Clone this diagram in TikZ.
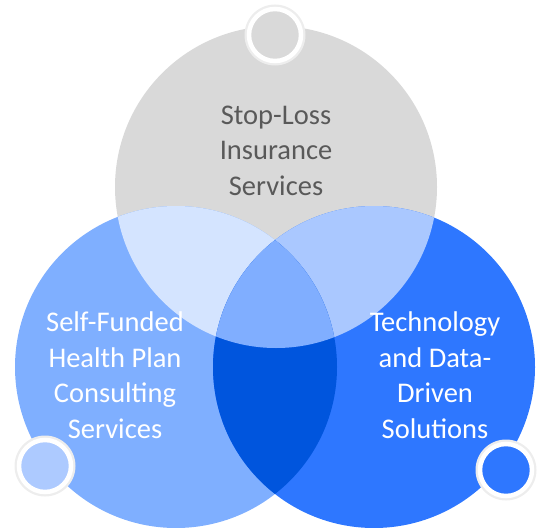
\documentclass[tikz,border=0pt]{standalone}
\usepackage{fontspec}
\setmainfont{Carlito}
\definecolor{cTop}{HTML}{D9D9D9}
\definecolor{cLeft}{HTML}{7FAFFF}
\definecolor{cRight}{HTML}{2E77FF}
\definecolor{cTL}{HTML}{D4E4FF}
\definecolor{cTR}{HTML}{AAC8FF}
\definecolor{cLR}{HTML}{0055DD}
\definecolor{cAll}{HTML}{80AEFF}
\definecolor{cSmallL}{HTML}{ADCAFF}
\definecolor{cText}{HTML}{595959}
\begin{document}
\begin{tikzpicture}[x=1pt,y=-1pt,
  lbl/.style={align=center,font=\fontsize{28.5}{35.5}\selectfont,inner sep=0pt},
  knob/.style={circle,minimum size=52pt,inner sep=0pt,draw=white,line width=4.5pt},
  knobshadow/.style={circle,minimum size=61pt,inner sep=0pt,fill=black!7}]
\useasboundingbox (0,0) rectangle (540,527);
\def\R{161}
% base circles
\fill[cTop] (276,187) circle (\R);
\fill[cLeft] (176,367) circle (\R);
\fill[cRight] (374,367) circle (\R);
% top & left
\begin{scope}
  \clip (276,187) circle (\R);
  \fill[cTL] (176,367) circle (\R);
\end{scope}
% top & right
\begin{scope}
  \clip (276,187) circle (\R);
  \fill[cTR] (374,367) circle (\R);
\end{scope}
% left & right
\begin{scope}
  \clip (176,367) circle (\R);
  \fill[cLR] (374,367) circle (\R);
\end{scope}
% all three
\begin{scope}
  \clip (276,187) circle (\R);
  \clip (176,367) circle (\R);
  \fill[cAll] (374,367) circle (\R);
\end{scope}
% labels
\node[lbl,text=cText,anchor=base] (top) at (276,195) {Stop-Loss\\Insurance\\Services};
\node[lbl,text=white,anchor=base] (left) at (115,438) {Self-Funded\\Health Plan\\Consulting\\Services};
\node[lbl,text=white,anchor=base] (right) at (435,438) {Technology\\and Data-\\Driven\\Solutions};
% knobs
\node[knobshadow] (ks1) at (275,35) {};
\node[knob,fill=cTop] (k1) at (275,35) {};
\node[knobshadow] (ks2) at (45,466) {};
\node[knob,fill=cSmallL] (k2) at (45,466) {};
\node[knobshadow] (ks3) at (506,470) {};
\node[knob,fill=cRight] (k3) at (506,470) {};
\end{tikzpicture}
\end{document}
